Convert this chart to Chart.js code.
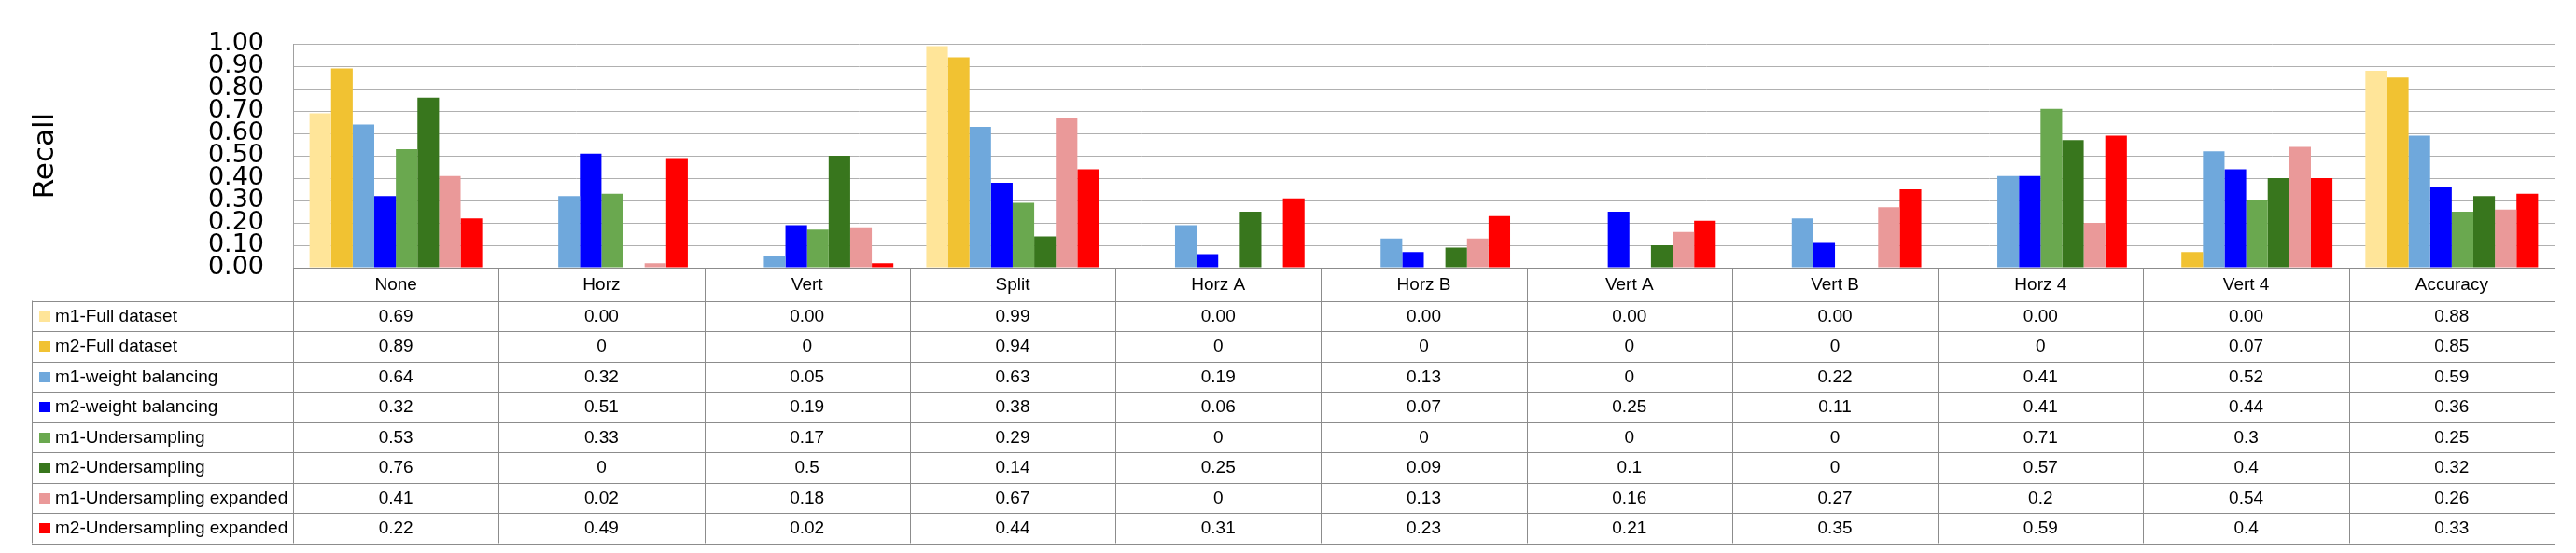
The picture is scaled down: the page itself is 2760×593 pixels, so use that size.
<!DOCTYPE html>
<html>
<head>
<meta charset="utf-8">
<script src="https://cdn.jsdelivr.net/npm/chart.js@4.4.1/dist/chart.umd.min.js"></script>
<style>
  html, body { margin: 0; padding: 0; background: #fff; }
  #wrap { width: 2760px; height: 593px; }
</style>
</head>
<body>
<div id="wrap"><canvas id="chart" width="2760" height="593"></canvas></div>
<script>
const categories = ['None', 'Horz', 'Vert', 'Split', 'Horz A', 'Horz B', 'Vert A', 'Vert B', 'Horz 4', 'Vert 4', 'Accuracy'];

const m1Full = [0.69, 0.00, 0.00, 0.99, 0.00, 0.00, 0.00, 0.00, 0.00, 0.00, 0.88];
const m2Full = [0.89, 0, 0, 0.94, 0, 0, 0, 0, 0, 0.07, 0.85];
const m1Weight = [0.64, 0.32, 0.05, 0.63, 0.19, 0.13, 0, 0.22, 0.41, 0.52, 0.59];
const m2Weight = [0.32, 0.51, 0.19, 0.38, 0.06, 0.07, 0.25, 0.11, 0.41, 0.44, 0.36];
const m1Under = [0.53, 0.33, 0.17, 0.29, 0, 0, 0, 0, 0.71, 0.3, 0.25];
const m2Under = [0.76, 0, 0.5, 0.14, 0.25, 0.09, 0.1, 0, 0.57, 0.4, 0.32];
const m1UnderExp = [0.41, 0.02, 0.18, 0.67, 0, 0.13, 0.16, 0.27, 0.2, 0.54, 0.26];
const m2UnderExp = [0.22, 0.49, 0.02, 0.44, 0.31, 0.23, 0.21, 0.35, 0.59, 0.4, 0.33];

const seriesNames = [
  'm1-Full dataset', 'm2-Full dataset',
  'm1-weight balancing', 'm2-weight balancing',
  'm1-Undersampling', 'm2-Undersampling',
  'm1-Undersampling expanded', 'm2-Undersampling expanded',
];
const seriesValues = [m1Full, m2Full, m1Weight, m2Weight, m1Under, m2Under, m1UnderExp, m2UnderExp];
// the first row of the data table is shown with two decimals, the rest as-is
const seriesDecimals = [2, null, null, null, null, null, null, null];
const seriesColors = ['#FFE599', '#F1C232', '#6FA8DC', '#0000FF', '#6AA84F', '#38761D', '#EA9999', '#FF0000'];

const tableFont = '19px "Liberation Sans", Arial, sans-serif';
const lineGray = '#8c8c8c';

// draws the Excel-style data table (with legend keys) under the plot
const dataTable = {
  id: 'dataTable',
  afterDraw(chart) {
    const ctx = chart.ctx;
    const area = chart.chartArea;
    const xScale = chart.scales.x;
    const colW = (area.right - area.left) / categories.length;
    const headTop = area.bottom;
    const rowTop = area.bottom + 35.5;
    const rowH = 32.5;
    const tableLeft = 34;
    const rowsBottom = rowTop + rowH * seriesNames.length;
    const crisp = v => Math.round(v) + 0.5;

    ctx.save();
    ctx.strokeStyle = lineGray;
    ctx.lineWidth = 1;
    ctx.beginPath();
    for (let r = 0; r <= seriesNames.length; r++) {
      const y = crisp(rowTop + r * rowH);
      ctx.moveTo(tableLeft, y);
      ctx.lineTo(area.right + 1, y);
    }
    for (let c = 0; c <= categories.length; c++) {
      const x = crisp(area.left + c * colW);
      ctx.moveTo(x, headTop);
      ctx.lineTo(x, rowsBottom);
    }
    ctx.moveTo(crisp(tableLeft), rowTop);
    ctx.lineTo(crisp(tableLeft), rowsBottom);
    ctx.stroke();

    ctx.fillStyle = '#000';
    ctx.font = tableFont;
    ctx.textAlign = 'center';
    ctx.textBaseline = 'middle';
    categories.forEach((cat, c) => {
      ctx.fillText(cat, xScale.getPixelForValue(c), (headTop + rowTop) / 2 + 1);
    });

    seriesNames.forEach((name, r) => {
      const yMid = rowTop + r * rowH + rowH / 2 + 1;
      ctx.fillStyle = seriesColors[r];
      ctx.fillRect(42, Math.round(yMid - 6), 12, 11);
      ctx.fillStyle = '#000';
      ctx.textAlign = 'left';
      ctx.fillText(name, 59, yMid);
      ctx.textAlign = 'center';
      seriesValues[r].forEach((v, c) => {
        const txt = seriesDecimals[r] === null ? String(v) : v.toFixed(seriesDecimals[r]);
        ctx.fillText(txt, xScale.getPixelForValue(c), yMid);
      });
    });
    ctx.restore();
  }
};

new Chart(document.getElementById('chart'), {
  type: 'bar',
  data: {
    labels: categories,
    datasets: seriesNames.map((name, i) => ({
      label: name,
      data: seriesValues[i],
      backgroundColor: seriesColors[i],
      borderWidth: 0,
      barPercentage: 1.0,
      categoryPercentage: 0.84,
    })),
  },
  options: {
    responsive: false,
    animation: false,
    devicePixelRatio: 1,
    layout: {
      padding: { left: 0, top: 31, right: 23, bottom: 306 },
    },
    plugins: {
      legend: { display: false },
      tooltip: { enabled: false },
    },
    scales: {
      x: {
        ticks: { display: false },
        grid: { display: false },
        border: { display: true, color: lineGray, width: 1 },
        afterFit(scale) { scale.height = 0; },
      },
      y: {
        min: 0,
        max: 1,
        ticks: {
          stepSize: 0.1,
          autoSkip: false,
          padding: 31,
          color: '#000',
          font: { family: '"DejaVu Sans", sans-serif', size: 27 },
          callback: v => Number(v).toFixed(2),
        },
        grid: { color: '#b0b0b0', lineWidth: 1, drawTicks: false },
        border: { display: true, color: '#a0a0a0', width: 1 },
        title: {
          display: true,
          text: 'Recall',
          color: '#000',
          font: { family: '"DejaVu Sans", sans-serif', size: 31 },
          padding: { top: 30, bottom: 0 },
        },
        afterFit(scale) { scale.width = 314; },
      },
    },
  },
  plugins: [dataTable],
});
</script>
</body>
</html>
